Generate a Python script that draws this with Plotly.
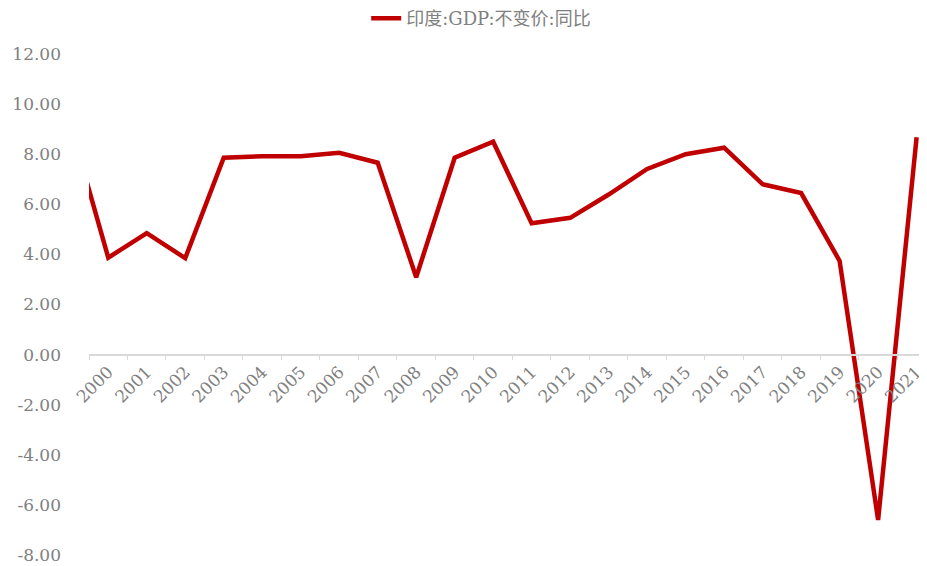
import plotly.graph_objects as go

years = [str(y) for y in range(1999, 2022)]
growth = [9.3, 3.87, 4.85, 3.85, 7.86, 7.92, 7.92, 8.06, 7.66, 3.09, 7.86, 8.50,
          5.24, 5.46, 6.39, 7.41, 8.00, 8.26, 6.80, 6.45, 3.74, -6.60, 8.68]
series_name = "印度:GDP:不变价:同比"
y_ticks = [-8, -6, -4, -2, 0, 2, 4, 6, 8, 10, 12]

FONT = "DejaVu Serif, Noto Sans CJK SC, serif"
GREY = "#808080"

fig = go.Figure()
fig.add_trace(go.Scatter(
    x=years, y=growth, mode="lines", name=series_name,
    line=dict(color="#C00000", width=4.5),
))

fig.update_layout(
    width=927, height=566,
    margin=dict(l=81, r=8, t=46, b=19, autoexpand=False),
    paper_bgcolor="white", plot_bgcolor="white",
    font=dict(family=FONT, size=15, color=GREY),
    showlegend=True,
    legend=dict(orientation="h", xref="paper", yref="paper",
                x=0.468, xanchor="center", y=1.071, yanchor="middle",
                font=dict(family=FONT, size=18, color=GREY),
                bgcolor="rgba(0,0,0,0)"),
    xaxis=dict(
        type="category", range=[0.5, 22.27],
        anchor="free", position=0.4, automargin=False,
        showline=True, linecolor="#D9D9D9", linewidth=1.5,
        ticks="outside", tickson="boundaries", ticklen=5, tickcolor="#D9D9D9",
        tickangle=-45, showgrid=False, zeroline=False,
        tickfont=dict(family=FONT, size=17, color=GREY),
    ),
    yaxis=dict(
        range=[-8, 12], tickvals=y_ticks, automargin=False,
        ticktext=[f"{v:.2f}" for v in y_ticks],
        showgrid=False, zeroline=False, showline=False,
        ticklabelstandoff=27,
        tickfont=dict(family=FONT, size=17, color=GREY),
    ),
)

fig.write_html("out.html")
